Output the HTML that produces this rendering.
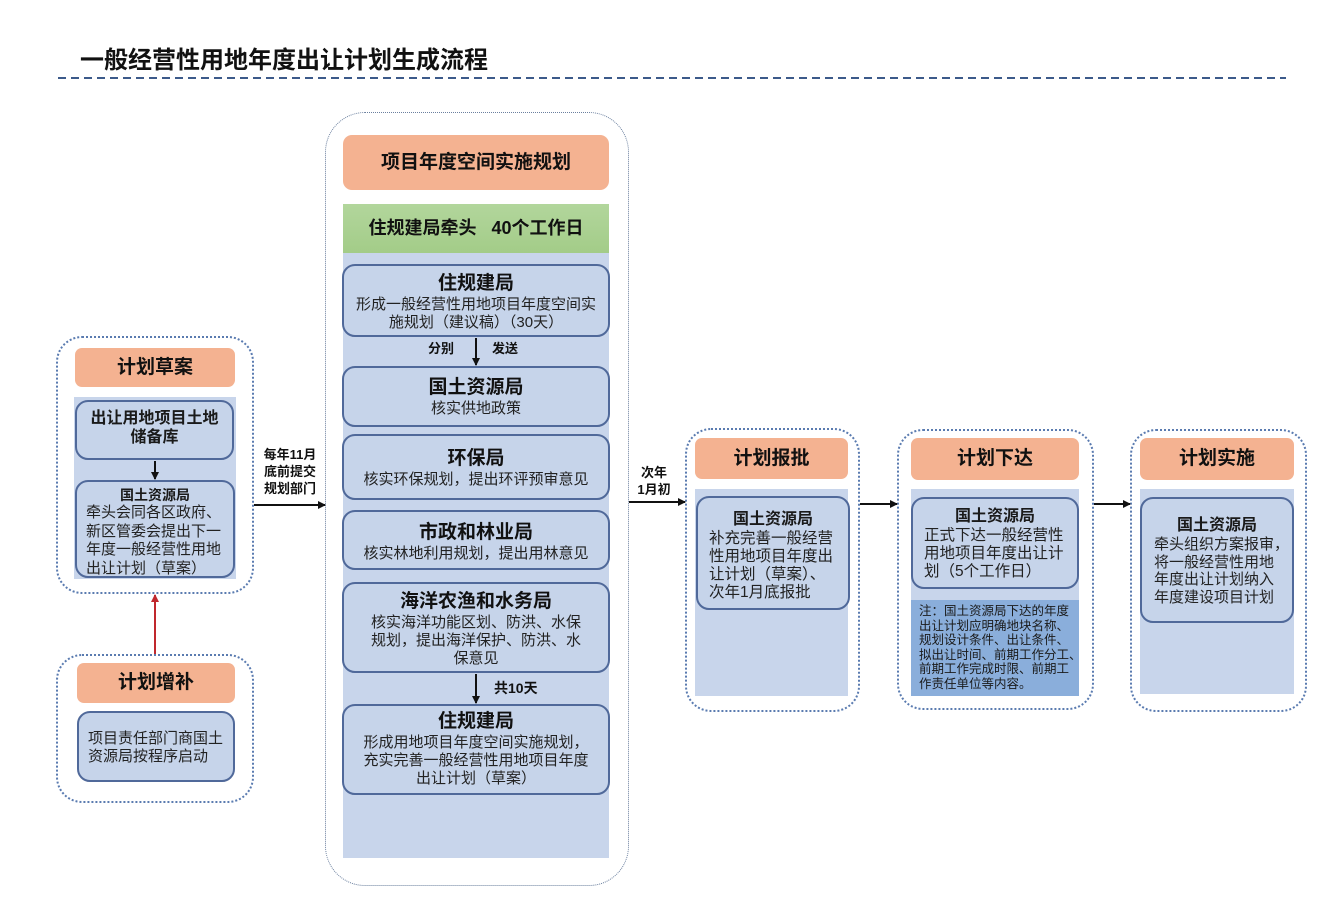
<!DOCTYPE html>
<html><head><meta charset="utf-8">
<style>
*{margin:0;padding:0;box-sizing:border-box}
body{width:1334px;height:912px;background:#fff;position:relative;overflow:hidden;font-family:"Liberation Sans","Noto Sans CJK SC",sans-serif;color:#1a1a1a}
.a{position:absolute}
.cont{position:absolute;border:2px dotted #5a7bb0;border-radius:26px}
.hdr{position:absolute;background:#f4b291;border-radius:7px;font-weight:bold;font-size:19px;text-align:center;color:#111}
.panel{position:absolute;background:#c8d5eb}
.box{position:absolute;background:#c6d4ea;border:2px solid #50699a;border-radius:13px;text-align:center}
.t{font-weight:bold;font-size:19px;line-height:24px;color:#111}
.d{font-size:15px;line-height:18px;color:#222;white-space:nowrap}
.lbl{position:absolute;font-weight:bold;font-size:13px;line-height:17px;text-align:center;white-space:nowrap;color:#111}
</style></head><body>

<div class="a" style="left:80px;top:46px;font-size:24px;font-weight:bold;line-height:30px;color:#111;white-space:nowrap">一般经营性用地年度出让计划生成流程</div>

<!-- 计划草案 -->
<div class="cont" style="left:56px;top:336px;width:198px;height:258px"></div>
<div class="hdr" style="left:75px;top:348px;width:160px;height:39px;line-height:39px">计划草案</div>
<div class="panel" style="left:74px;top:397px;width:162px;height:182px"></div>
<div class="box" style="left:75px;top:400px;width:159px;height:60px;padding-top:7px"><div style="font-weight:bold;font-size:16px;line-height:19px">出让用地项目土地<br>储备库</div></div>
<div class="box" style="left:75px;top:480px;width:160px;height:98px;padding-top:4px">
<div style="font-weight:bold;font-size:14px;line-height:18px">国土资源局</div>
<div class="d" style="text-align:left;padding-left:9px;line-height:18.5px">牵头会同各区政府、<br>新区管委会提出下一<br>年度一般经营性用地<br>出让计划（草案）</div></div>

<!-- 计划增补 -->
<div class="cont" style="left:56px;top:654px;width:198px;height:149px"></div>
<div class="hdr" style="left:77px;top:663px;width:158px;height:40px;line-height:40px">计划增补</div>
<div class="box" style="left:77px;top:711px;width:158px;height:71px;padding-top:17px">
<div class="d" style="text-align:left;padding-left:9px">项目责任部门商国土<br>资源局按程序启动</div></div>

<div class="lbl" style="left:257px;top:446px;width:66px">每年11月<br>底前提交<br>规划部门</div>

<!-- center -->
<div class="a" style="left:325px;top:112px;width:304px;height:774px;border:1.5px dotted #6a7f9e;border-radius:40px"></div>
<div class="hdr" style="left:343px;top:135px;width:266px;height:55px;line-height:55px;border-radius:9px">项目年度空间实施规划</div>
<div class="a" style="left:343px;top:204px;width:266px;height:49px;background:linear-gradient(#b2d69c,#a3cc88);font-weight:bold;font-size:18px;line-height:49px;text-align:center;white-space:nowrap;color:#111">住规建局牵头&nbsp;&nbsp;&nbsp;40个工作日</div>
<div class="panel" style="left:343px;top:253px;width:266px;height:605px"></div>

<div class="box" style="left:342px;top:264px;width:268px;height:73px;padding-top:6px"><div class="t">住规建局</div><div class="d">形成一般经营性用地项目年度空间实<br>施规划（建议稿）（30天）</div></div>
<div class="lbl" style="left:428px;top:340px">分别</div>
<div class="lbl" style="left:492px;top:340px">发送</div>
<div class="box" style="left:342px;top:366px;width:268px;height:61px;padding-top:8px"><div class="t">国土资源局</div><div class="d">核实供地政策</div></div>
<div class="box" style="left:342px;top:434px;width:268px;height:66px;padding-top:11px"><div class="t">环保局</div><div class="d">核实环保规划，提出环评预审意见</div></div>
<div class="box" style="left:342px;top:510px;width:268px;height:60px;padding-top:9px"><div class="t">市政和林业局</div><div class="d">核实林地利用规划，提出用林意见</div></div>
<div class="box" style="left:342px;top:582px;width:268px;height:91px;padding-top:6px"><div class="t">海洋农渔和水务局</div><div class="d">核实海洋功能区划、防洪、水保<br>规划，提出海洋保护、防洪、水<br>保意见</div></div>
<div class="lbl" style="left:494px;top:680px;font-size:14px">共10天</div>
<div class="box" style="left:342px;top:704px;width:268px;height:91px;padding-top:4px"><div class="t">住规建局</div><div class="d">形成用地项目年度空间实施规划，<br>充实完善一般经营性用地项目年度<br>出让计划（草案）</div></div>

<div class="lbl" style="left:628px;top:464px;width:52px">次年<br>1月初</div>

<!-- 计划报批 -->
<div class="cont" style="left:685px;top:428px;width:175px;height:284px"></div>
<div class="hdr" style="left:695px;top:438px;width:153px;height:41px;line-height:41px">计划报批</div>
<div class="panel" style="left:695px;top:489px;width:153px;height:207px"></div>
<div class="box" style="left:696px;top:496px;width:154px;height:114px;padding-top:12px">
<div style="font-weight:bold;font-size:16px;line-height:20px">国土资源局</div>
<div class="d" style="text-align:left;padding-left:11px;font-size:15.5px">补充完善一般经营<br>性用地项目年度出<br>让计划（草案）、<br>次年1月底报批</div></div>

<!-- 计划下达 -->
<div class="cont" style="left:897px;top:429px;width:197px;height:281px"></div>
<div class="hdr" style="left:911px;top:438px;width:168px;height:42px;line-height:42px">计划下达</div>
<div class="panel" style="left:911px;top:489px;width:168px;height:207px"></div>
<div class="box" style="left:911px;top:497px;width:168px;height:92px;padding-top:8px">
<div style="font-weight:bold;font-size:16px;line-height:20px">国土资源局</div>
<div class="d" style="text-align:left;padding-left:11px;font-size:15.5px">正式下达一般经营性<br>用地项目年度出让计<br>划（5个工作日）</div></div>
<div class="a" style="left:911px;top:600px;width:168px;height:96px;background:#8aaedb;padding:4px 0 0 8px;font-size:12.5px;line-height:14.6px;white-space:nowrap;color:#1a1a1a">注：国土资源局下达的年度<br>出让计划应明确地块名称、<br>规划设计条件、出让条件、<br>拟出让时间、前期工作分工、<br>前期工作完成时限、前期工<br>作责任单位等内容。</div>

<!-- 计划实施 -->
<div class="cont" style="left:1130px;top:429px;width:177px;height:283px"></div>
<div class="hdr" style="left:1140px;top:438px;width:154px;height:42px;line-height:42px">计划实施</div>
<div class="panel" style="left:1140px;top:489px;width:154px;height:205px"></div>
<div class="box" style="left:1140px;top:497px;width:154px;height:126px;padding-top:17px">
<div style="font-weight:bold;font-size:16px;line-height:20px">国土资源局</div>
<div class="d" style="text-align:left;padding-left:12px;line-height:17.7px">牵头组织方案报审，<br>将一般经营性用地<br>年度出让计划纳入<br>年度建设项目计划</div></div>

<svg class="a" style="left:0;top:0;z-index:5" width="1334" height="912">
<line x1="58" y1="78" x2="1286" y2="78" stroke="#3c5a8a" stroke-width="2" stroke-dasharray="8,5"/>
<defs><marker id="ah" markerWidth="8" markerHeight="8" refX="7" refY="4" orient="auto" markerUnits="userSpaceOnUse"><path d="M0,0 L8,4 L0,8 z" fill="#111"/></marker>
<marker id="ahr" markerWidth="8" markerHeight="8" refX="7" refY="4" orient="auto" markerUnits="userSpaceOnUse"><path d="M0,0 L8,4 L0,8 z" fill="#c0282d"/></marker></defs>
<line x1="155" y1="461" x2="155" y2="479" stroke="#111" stroke-width="2" marker-end="url(#ah)"/>
<line x1="155" y1="654" x2="155" y2="595" stroke="#c0282d" stroke-width="2" marker-end="url(#ahr)"/>
<line x1="254" y1="505" x2="325" y2="505" stroke="#111" stroke-width="2" marker-end="url(#ah)"/>
<line x1="476" y1="338" x2="476" y2="365" stroke="#111" stroke-width="2" marker-end="url(#ah)"/>
<line x1="476" y1="674" x2="476" y2="703" stroke="#111" stroke-width="2" marker-end="url(#ah)"/>
<line x1="629" y1="502" x2="685" y2="502" stroke="#111" stroke-width="2" marker-end="url(#ah)"/>
<line x1="860" y1="504" x2="897" y2="504" stroke="#111" stroke-width="2" marker-end="url(#ah)"/>
<line x1="1094" y1="504" x2="1130" y2="504" stroke="#111" stroke-width="2" marker-end="url(#ah)"/>
</svg>

</body></html>
